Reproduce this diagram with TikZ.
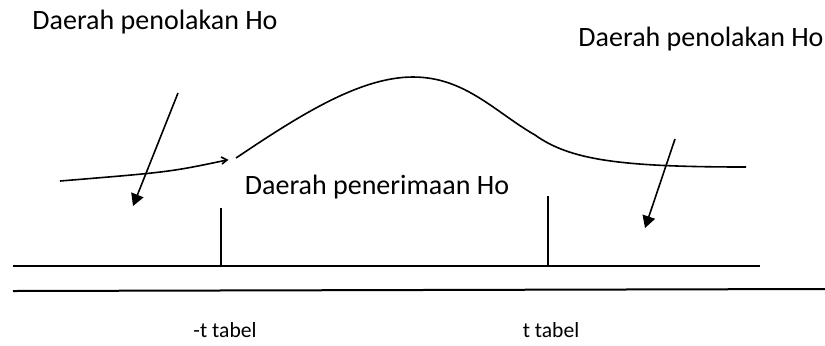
\documentclass[tikz,border=0pt]{standalone}
\usepackage{fontspec}
\setmainfont{Carlito}
\usetikzlibrary{arrows.meta}
\tikzset{
    lbl/.style={font=\fontsize{14}{16}\selectfont, inner sep=0pt},
    ticklbl/.style={font=\fontsize{10.8}{13}\selectfont, inner sep=0pt},
    pointer/.style={line width=0.8pt, -{Triangle[length=6pt,width=6.5pt]}}
}
\begin{document}
\begin{tikzpicture}[x=0.5pt, y=-0.5pt, line width=0.8pt]
    \useasboundingbox (0,0) rectangle (825,345);
    % labels
    \node[lbl] (tolakkiri) at (155,22) {Daerah penolakan Ho};
    \node[lbl] (tolakkanan) at (701,39) {Daerah penolakan Ho};
    \node[lbl] (terima) at (377,187) {Daerah penerimaan Ho};
    % curve
    \draw (60,181) .. controls (170,172) .. (227,160);
    \draw (221,157) -- (227,160) -- (222,164);
    \draw (236,158) .. controls (300,115) and (360,77) .. (413,77)
        .. controls (465,77) and (495,112) .. (535,135)
        .. controls (570,160) and (620,167) .. (746,167);
    % arrows
    \coordinate (a1) at (178,93);
    \coordinate (a1e) at (133,206);
    \coordinate (a2) at (675,139);
    \coordinate (a2e) at (645,228);
    \draw[pointer] (a1) -- (a1e);
    \draw[pointer] (a2) -- (a2e);
    % axis
    \coordinate (kiri) at (221,266);
    \coordinate (kanan) at (548,266);
    \draw (13,266) -- (760,266);
    \draw[line width=1pt] (13,291) -- (825,289);
    \draw[line width=0.6pt] (kiri) -- ++(0,-58);
    \draw[line width=0.6pt] (kanan) -- ++(0,-70);
    \node[ticklbl] (tkiri) at (225,330) {-t tabel};
    \node[ticklbl] (tkanan) at (551,330) {t tabel};
\end{tikzpicture}
\end{document}
